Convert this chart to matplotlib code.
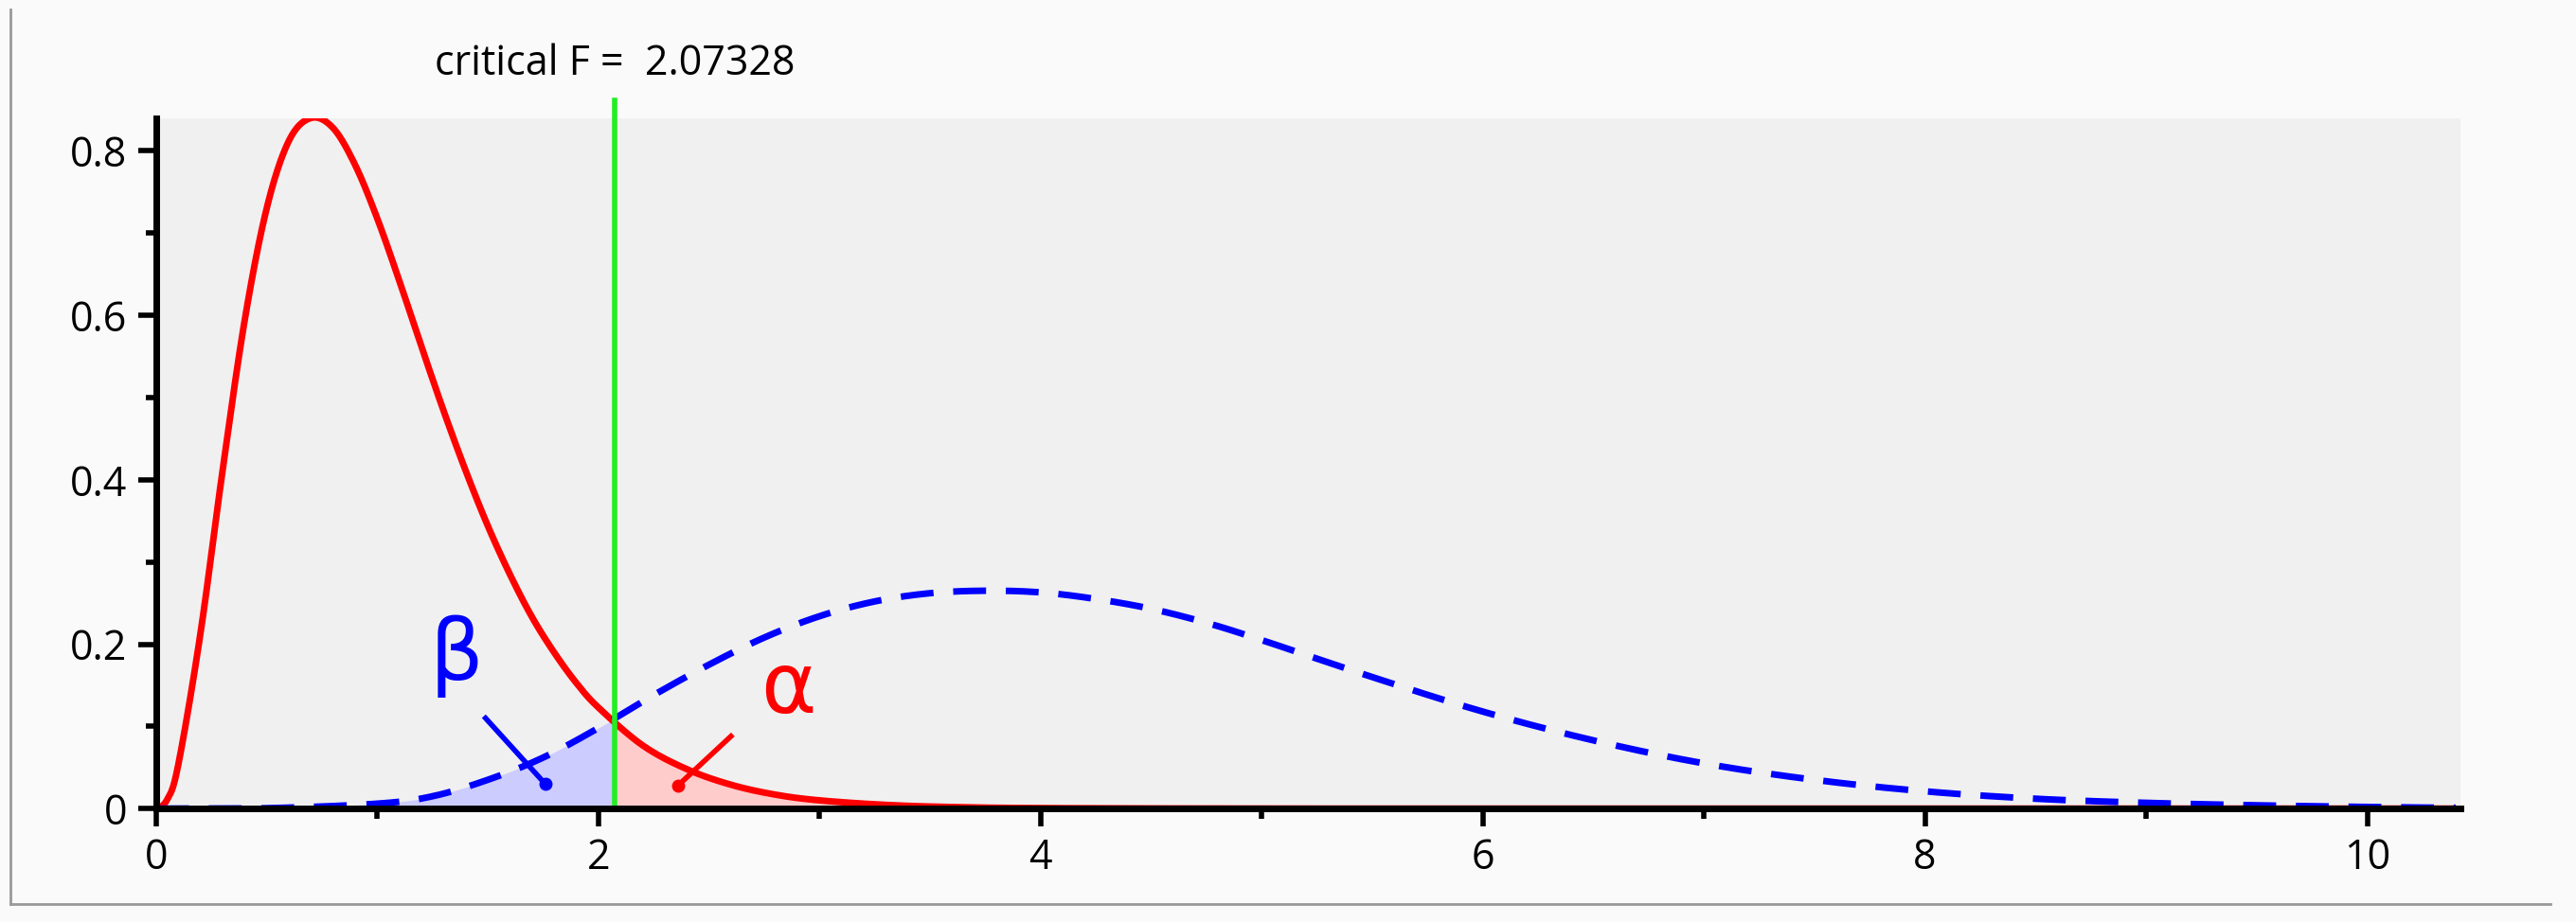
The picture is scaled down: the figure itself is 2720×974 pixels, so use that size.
import numpy as np
import matplotlib
matplotlib.use("Agg")
import matplotlib.pyplot as plt

# central F (H0) density
x_h0 = [0, 0.05, 0.1, 0.2, 0.3, 0.4, 0.5, 0.6, 0.7, 0.8, 0.9, 1.0, 1.1, 1.2, 1.3, 1.4, 1.5,
        1.6, 1.7, 1.8, 1.9, 2.0, 2.2, 2.4, 2.6, 2.8, 3.0, 3.3, 3.6, 4.0, 5.0, 6.0, 8.0, 10.4]
y_h0 = [0, 0.011, 0.053, 0.212, 0.41, 0.593, 0.73, 0.812, 0.84, 0.828, 0.783, 0.718, 0.642,
        0.562, 0.484, 0.411, 0.344, 0.285, 0.233, 0.19, 0.153, 0.123, 0.077, 0.048, 0.029,
        0.017, 0.010, 0.0045, 0.0019, 0.0006, 0.00004, 0, 0, 0]
# noncentral F (H1) density
x_h1 = [0, 0.5, 1.0, 1.25, 1.5, 1.75, 2.0, 2.25, 2.5, 2.75, 3.0, 3.25, 3.5, 3.75, 4.0, 4.25,
        4.5, 4.75, 5.0, 5.5, 6.0, 6.5, 7.0, 7.5, 8.0, 8.5, 9.0, 9.5, 10.0, 10.4]
y_h1 = [0, 0.0005, 0.006, 0.015, 0.035, 0.062, 0.098, 0.138, 0.175, 0.208, 0.234, 0.252,
        0.262, 0.265, 0.263, 0.255, 0.243, 0.226, 0.205, 0.160, 0.118, 0.083, 0.055, 0.035,
        0.021, 0.012, 0.007, 0.004, 0.002, 0.001]
crit_f = 2.07328


def smooth(xs, ys, n=20):
    """Catmull-Rom spline through the read points."""
    xs = np.asarray(xs, float); ys = np.asarray(ys, float)
    px = np.concatenate([[2 * xs[0] - xs[1]], xs, [2 * xs[-1] - xs[-2]]])
    py = np.concatenate([[ys[0]], ys, [ys[-1]]])
    ox, oy = [], []
    t = np.linspace(0, 1, n, endpoint=False)
    for i in range(1, len(px) - 2):
        for P, out in ((px, ox), (py, oy)):
            p0, p1, p2, p3 = P[i - 1], P[i], P[i + 1], P[i + 2]
            out.extend(0.5 * (2 * p1 + (-p0 + p2) * t + (2 * p0 - 5 * p1 + 4 * p2 - p3) * t ** 2
                              + (-p0 + 3 * p1 - 3 * p2 + p3) * t ** 3))
    ox.append(xs[-1]); oy.append(ys[-1])
    return np.array(ox), np.clip(np.array(oy), 0, None)


fig = plt.figure(figsize=(27.2, 9.74), dpi=100, facecolor="#fafafa")
ax = fig.add_axes([0.0606, 0.123, 0.8944, 0.749])
ax.set_facecolor("#f0f0f0")

sx0, sy0 = smooth(x_h0, y_h0)
sx1, sy1 = smooth(x_h1, y_h1)
xg = np.linspace(0, 10.4, 3000)
h0 = np.interp(xg, sx0, sy0)
h1 = np.interp(xg, sx1, sy1)
ax.fill_between(xg, 0, h1, where=xg <= crit_f, color="#ccccff", lw=0)
ax.fill_between(xg, 0, h0, where=(xg >= crit_f) & (xg <= 4.2), color="#ffcccc", lw=0)
ax.plot(xg, h0, color="red", lw=5, solid_capstyle="round")
ax.plot(xg, h1, color="blue", lw=5, dashes=(5, 3))
ax.axvline(crit_f, ymin=0, ymax=1.025, color="#22ee22", lw=4, clip_on=False)

ax.text(crit_f, 0.905, "critical F =  " + f"{crit_f:.5f}", ha="center", va="center",
        fontsize=31, family="Open Sans", clip_on=False)

ax.text(1.36, 0.185, "β", color="blue", fontsize=64, ha="center", va="center")
ax.plot([1.49, 1.76], [0.11, 0.03], color="blue", lw=4)
ax.plot([1.76], [0.03], "o", color="blue", ms=9)
ax.text(2.86, 0.145, "α", color="red", fontsize=64, ha="center", va="center")
ax.plot([2.6, 2.36], [0.088, 0.028], color="red", lw=4)
ax.plot([2.36], [0.028], "o", color="red", ms=9)

ax.set_xlim(0, 10.42)
ax.set_ylim(0, 0.84)
ax.set_xticks([0, 2, 4, 6, 8, 10])
ax.set_xticks(range(0, 11), minor=True)
ax.set_yticks([0, 0.2, 0.4, 0.6, 0.8])
ax.set_yticklabels(["0", "0.2", "0.4", "0.6", "0.8"])
ax.set_yticks([0.1, 0.3, 0.5, 0.7], minor=True)
ax.tick_params(which="major", length=14, width=4, labelsize=31, direction="out", pad=8)
ax.tick_params(which="minor", length=8, width=4, direction="out")
for lab in ax.get_xticklabels() + ax.get_yticklabels():
    lab.set_family("Open Sans")
for s in ["top", "right"]:
    ax.spines[s].set_visible(False)
for s in ["left", "bottom"]:
    ax.spines[s].set_linewidth(5)

# thin frame of the figure
fig.add_artist(plt.Line2D([0.004, 0.004], [0.02, 0.99], color="#999999", lw=2))
fig.add_artist(plt.Line2D([0.004, 0.99], [0.02, 0.02], color="#999999", lw=2))

fig.savefig("out.png", dpi=100, facecolor=fig.get_facecolor())
